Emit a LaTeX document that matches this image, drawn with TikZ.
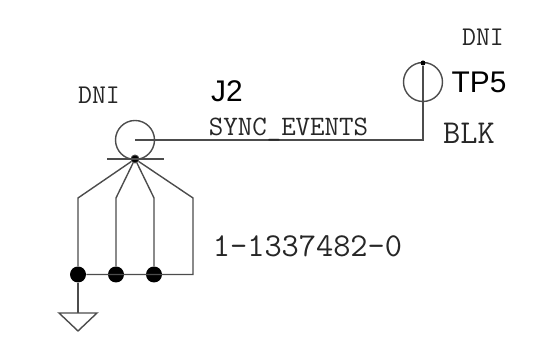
\documentclass[tikz,border=0pt]{standalone}
\usepackage{fontspec}
\setmainfont{Liberation Sans}
\usetikzlibrary{arrows.meta}
\tikzset{
  wire/.style={draw=black!70, line width=0.8pt},
  ring/.style={circle, draw=black!70, line width=0.8pt, minimum size=0.78cm, inner sep=0pt},
  junct/.style={circle, fill=black, minimum size=0.32cm, inner sep=0pt},
  tag/.style={inner sep=0pt, text=black!85},
  reftext/.style={inner sep=0pt, text=black},
}
\newcommand{\monosize}[1]{\fontsize{#1}{#1}\selectfont\ttfamily}
\newcommand{\refsize}{\fontsize{17}{17}\selectfont}
\begin{document}
\begin{tikzpicture}
  \useasboundingbox (0,0) rectangle (10.82,7.2);
  % connector and test point
  \node[ring] (j2ring) at (2.70,4.40) {};
  \node[ring] (tpring) at (8.46,5.56) {};
  \coordinate (j2mid) at (2.70,4.40);
  \coordinate (tpcorner) at (8.46,4.40);
  \node[circle, fill=black, minimum size=0.1cm, inner sep=0pt] (tptop) at (8.46,5.94) {};
  \draw[wire] (j2mid) -- (tpcorner) -- (tptop);
  % bar and pin neck
  \coordinate (barl) at (2.14,4.02);
  \coordinate (barr) at (3.28,4.02);
  \node[circle, draw=black!70, fill=black, line width=0.5pt, minimum size=0.16cm, inner sep=0pt] (neck) at (2.70,4.02) {};
  \draw[wire] (barl) -- (barr);
  % legs
  \node[junct] (pa) at (1.56,1.71) {};
  \node[junct] (pb) at (2.32,1.71) {};
  \node[junct] (pc) at (3.08,1.71) {};
  \coordinate (pd) at (3.86,1.71);
  \coordinate (ka) at (1.56,3.24);
  \coordinate (kb) at (2.32,3.24);
  \coordinate (kc) at (3.08,3.24);
  \coordinate (kd) at (3.86,3.24);
  \draw[wire] (neck) -- (ka) -- (pa);
  \draw[wire] (neck) -- (kb) -- (pb);
  \draw[wire] (neck) -- (kc) -- (pc);
  \draw[wire] (neck) -- (kd) -- (pd) -- (pa);
  % ground
  \coordinate (gnd) at (1.56,0.94);
  \draw[wire] (pa) -- (gnd);
  \draw[wire] (1.18,0.94) -- (1.94,0.94) -- (1.56,0.58) -- cycle;
  % texts
  \node[tag, font=\monosize{15.4}] (dnia) at (1.98,5.30) {DNI};
  \node[reftext, font=\refsize] (jref) at (4.54,5.37) {J2};
  \node[tag, font=\monosize{16}] (net) at (5.77,4.60) {SYNC\_EVENTS};
  \node[tag, font=\monosize{15.4}] (dnib) at (9.66,6.46) {DNI};
  \node[reftext, font=\refsize] (tpref) at (9.58,5.55) {TP5};
  \node[tag, font=\monosize{19}] (blk) at (9.38,4.54) {BLK};
  \node[tag, font=\monosize{19}] (part) at (6.15,2.28) {1-1337482-0};
\end{tikzpicture}
\end{document}
